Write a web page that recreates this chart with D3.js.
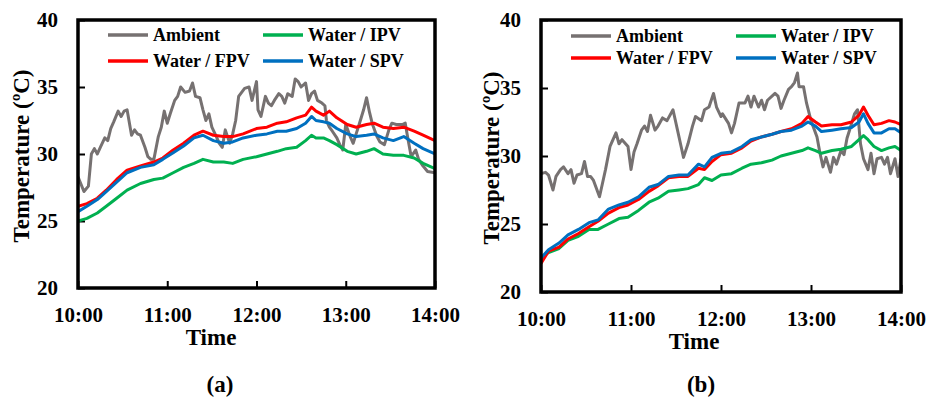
<!DOCTYPE html>
<html>
<head>
<meta charset="utf-8">
<script src="https://cdn.jsdelivr.net/npm/d3@7"></script>
<style>
  body { margin: 0; background: #fff; }
  text { font-family: "Liberation Serif", "Times New Roman", serif; font-weight: bold; fill: #000; }
</style>
</head>
<body>
<div id="chart"></div>
<script>
// all times are minutes after 10:00

// panel (a)
const ambTimeA = [0,4,7,9,11,13,15,18,20,22,24,27,29,31,33,36,38,40,42,45,47,49,51,54,56,58,60,62,65,67,69,72,75,77,79,82,84,86,88,90,93,95,97,99,102,104,106,108,112,115,117,120,
  121,123,126,128,130,132,135,137,139,141,144,146,148,150,153,155,157,159,161,164,166,167,169,171,174,176,178,180,183,185,187,189,192,194,196,198,201,203,206,209,211,214,218,220,222,224,227,229,232,235,240];
const ambientA = [28.3,27.2,27.6,30.0,30.4,30.0,30.5,31.2,31.0,31.9,32.4,33.2,32.8,33.2,33.3,31.4,31.8,31.5,31.4,30.5,29.8,29.6,29.6,31.3,32.0,33.2,32.3,33.0,34.0,34.3,35.0,34.6,34.7,35.3,34.3,34.2,33.3,32.5,33.0,32.0,31.3,30.8,30.5,31.8,30.8,31.5,32.5,34.3,34.9,35.0,34.0,35.4,
  33.3,32.8,34.3,33.8,33.6,34.0,34.5,34.3,33.8,34.5,34.3,35.6,35.4,35.0,35.3,34.0,34.5,34.7,34.0,33.8,33.6,32.5,32.0,31.7,31.2,30.7,30.3,32.2,31.3,30.8,31.5,32.2,33.3,34.2,33.1,32.2,31.3,30.9,30.7,31.8,32.3,32.2,32.2,32.3,31.0,29.8,30.3,29.6,29.1,28.7,28.6];
const waterTimeA = [0,6,13,19,26,33,42,51,57,64,71,78,84,91,98,104,111,120,127,134,140,147,153,157,160,165,169,174,181,187,194,199,205,212,219,226,232,240];
const ipvA = [25.0,25.2,25.6,26.1,26.7,27.3,27.8,28.1,28.2,28.6,29.0,29.3,29.6,29.4,29.4,29.3,29.6,29.8,30.0,30.2,30.4,30.5,31.0,31.4,31.2,31.2,31.0,30.7,30.2,30.0,30.2,30.4,30.0,29.9,29.9,29.7,29.3,28.9];
const fpvA = [26.1,26.3,26.7,27.3,28.1,28.8,29.1,29.4,29.7,30.3,30.8,31.4,31.7,31.4,31.3,31.3,31.5,31.9,32.0,32.3,32.4,32.7,32.9,33.5,33.2,32.9,33.2,32.7,32.2,32.0,32.2,32.3,32.0,31.9,32.0,31.7,31.4,31.0];
const spvA = [25.7,26.1,26.6,27.2,27.9,28.6,29.0,29.2,29.6,30.1,30.6,31.2,31.4,31.0,30.8,30.9,31.2,31.4,31.5,31.7,31.7,31.9,32.3,32.8,32.5,32.4,32.3,31.9,31.5,31.3,31.4,31.5,31.2,31.0,31.3,30.8,30.4,30.0];

// panel (b)
const ambTimeB = [0,3,5,8,10,13,15,18,20,22,24,27,29,31,33,35,39,41,43,46,50,52,54,58,60,62,64,67,69,71,73,76,78,81,84,88,91,93,95,98,101,103,107,109,112,115,117,120,
  121,125,127,129,132,136,138,140,142,145,147,149,151,154,156,158,160,162,165,167,169,171,172,175,177,180,184,186,188,190,193,195,197,200,202,204,206,209,211,213,215,218,220,222,224,227,229,231,233,236,238,240];
const ambientB = [28.7,28.8,28.6,27.5,28.5,29.0,29.2,28.7,29.0,28.0,28.6,28.7,29.6,28.5,28.5,28.2,27.0,28.0,29.0,30.7,31.7,30.9,31.2,30.7,29.0,30.3,30.9,31.9,32.2,31.8,33.0,31.9,32.2,32.8,32.6,33.4,31.9,30.9,29.9,30.9,32.2,32.9,32.6,33.4,33.6,34.6,33.6,32.9,
  33.1,32.4,31.7,32.4,33.9,33.9,34.4,33.6,34.4,33.6,34.1,33.4,34.1,34.4,34.6,34.4,33.5,34.1,34.9,35.1,35.4,36.1,35.1,35.1,33.9,32.6,31.4,30.2,29.2,29.9,28.8,29.9,29.4,30.4,30.1,31.3,32.0,33.1,33.4,30.9,29.8,29.0,30.2,28.7,29.8,29.9,29.4,29.9,28.7,29.8,28.5,29.8];
const waterTimeB = [0,5,12,18,25,32,38,45,52,58,65,72,78,85,92,98,105,109,114,120,127,134,140,147,154,160,167,174,178,183,187,194,200,207,212,215,218,222,227,232,236,240];
const ipvB = [22.5,22.9,23.2,23.8,24.1,24.6,24.6,25.0,25.4,25.5,26.0,26.6,26.9,27.4,27.5,27.6,27.9,28.4,28.2,28.6,28.7,29.1,29.4,29.5,29.7,30.0,30.2,30.4,30.6,30.4,30.2,30.4,30.5,30.7,31.2,31.5,31.2,30.7,30.4,30.6,30.7,30.4];
const fpvB = [22.1,23.0,23.3,23.9,24.3,24.8,25.2,25.8,26.2,26.4,26.8,27.4,27.8,28.4,28.5,28.5,29.1,29.0,29.6,30.1,30.2,30.6,31.1,31.4,31.6,31.8,32.0,32.4,32.9,32.5,32.2,32.3,32.3,32.5,33.0,33.6,33.0,32.3,32.4,32.6,32.5,32.3];
const spvB = [22.5,23.1,23.6,24.2,24.6,25.1,25.3,26.1,26.4,26.6,27.0,27.7,27.9,28.5,28.6,28.6,29.4,29.2,29.9,30.2,30.3,30.7,31.2,31.4,31.6,31.8,31.9,32.2,32.5,32.2,31.8,31.9,32.0,32.1,32.5,33.1,32.4,31.7,31.7,32.0,32.0,31.7];

const seriesNames = ["Ambient", "Water / IPV", "Water / FPV", "Water / SPV"];
const seriesColors = ["#767171", "#00b050", "#ff0000", "#0070c0"];
const timeTicks = [0, 60, 120, 180, 240];
const timeLabels = ["10:00", "11:00", "12:00", "13:00", "14:00"];
const tempTicks = [20, 25, 30, 35, 40];

const width = 928, height = 397;

const svg = d3.select("#chart").append("svg")
  .attr("width", width)
  .attr("height", height);

function drawPanel(p) {
  const x = d3.scaleLinear().domain([0, 240]).range([p.left, p.right]);
  const y = d3.scaleLinear().domain([20, 40]).range([p.bottom, p.top]);
  const g = svg.append("g");

  const clipId = "clip-" + p.tag;
  g.append("clipPath").attr("id", clipId)
    .append("rect")
    .attr("x", p.left).attr("y", p.top)
    .attr("width", p.right - p.left).attr("height", p.bottom - p.top);

  // x axis, ticks point inward
  g.append("g")
    .attr("transform", `translate(0,${p.bottom})`)
    .call(d3.axisBottom(x).tickValues(timeTicks).tickFormat((d, i) => timeLabels[i]).tickSize(-7).tickPadding(19))
    .attr("font-size", 21)
    .call(a => a.select(".domain").remove())
    .call(a => a.selectAll("line").attr("stroke", "#000").attr("stroke-width", 2));

  // y axis
  g.append("g")
    .attr("transform", `translate(${p.left},0)`)
    .call(d3.axisLeft(y).tickValues(tempTicks).tickSize(-7).tickPadding(20))
    .attr("font-size", 21)
    .call(a => a.select(".domain").remove())
    .call(a => a.selectAll("line").attr("stroke", "#000").attr("stroke-width", 2));

  const line = d3.line().x(d => x(d[0])).y(d => y(d[1]));
  const series = [
    d3.zip(p.ambTime, p.ambient),
    d3.zip(p.waterTime, p.ipv),
    d3.zip(p.waterTime, p.fpv),
    d3.zip(p.waterTime, p.spv)
  ];

  g.append("g")
    .attr("clip-path", `url(#${clipId})`)
    .selectAll("path")
    .data(series)
    .enter().append("path")
      .attr("fill", "none")
      .attr("stroke", (d, i) => seriesColors[i])
      .attr("stroke-width", 3)
      .attr("stroke-linejoin", "round")
      .attr("d", line);

  // frame
  g.append("rect")
    .attr("x", p.left).attr("y", p.top)
    .attr("width", p.right - p.left).attr("height", p.bottom - p.top)
    .attr("fill", "none")
    .attr("stroke", "#000")
    .attr("stroke-width", 3.5);

  // legend: 2 x 2
  const legend = g.append("g");
  const item = legend.selectAll("g")
    .data(seriesNames)
    .enter().append("g")
      .attr("transform", (d, i) => `translate(${p.left + p.legendCols[i % 2]},${p.legendRows[Math.floor(i / 2)]})`);
  item.append("line")
    .attr("x1", 0).attr("x2", 40)
    .attr("stroke", (d, i) => seriesColors[i])
    .attr("stroke-width", 3.5);
  item.append("text")
    .attr("x", 45)
    .attr("dy", "0.35em")
    .attr("font-size", 18)
    .text(d => d);

  // titles
  g.append("text")
    .attr("transform", `translate(${p.yTitleX},${(p.top + p.bottom) / 2 + 2}) rotate(-90)`)
    .attr("text-anchor", "middle")
    .attr("dy", "0.35em")
    .attr("font-size", 23)
    .text("Temperature (ºC)");

  g.append("text")
    .attr("x", p.timeX).attr("y", p.bottom + 57)
    .attr("text-anchor", "middle")
    .attr("font-size", 23)
    .text("Time");

  g.append("text")
    .attr("x", p.tagX).attr("y", 392)
    .attr("text-anchor", "middle")
    .attr("font-size", 23)
    .text(`(${p.tag})`);
}

drawPanel({
  tag: "a", left: 78, right: 435, top: 20, bottom: 288,
  ambTime: ambTimeA, ambient: ambientA, waterTime: waterTimeA, ipv: ipvA, fpv: fpvA, spv: spvA,
  legendCols: [30, 185], legendRows: [35, 61],
  yTitleX: 21, timeX: 211, tagX: 220
});

drawPanel({
  tag: "b", left: 541, right: 901, top: 20, bottom: 292,
  ambTime: ambTimeB, ambient: ambientB, waterTime: waterTimeB, ipv: ipvB, fpv: fpvB, spv: spvB,
  legendCols: [30, 195], legendRows: [36, 58],
  yTitleX: 491, timeX: 694, tagX: 701
});
</script>
</body>
</html>
